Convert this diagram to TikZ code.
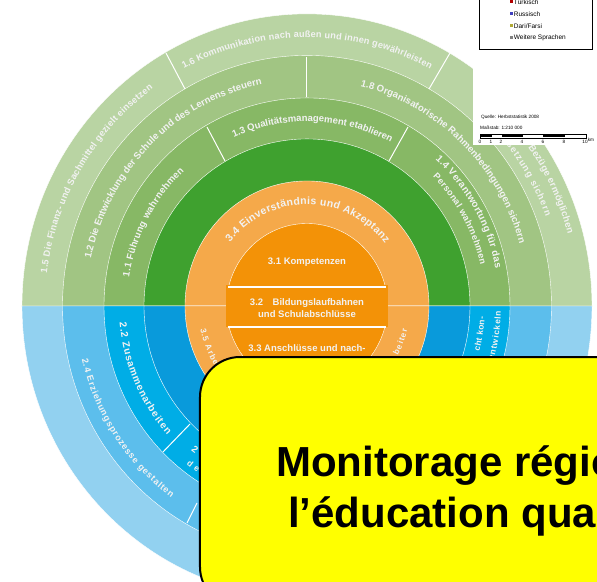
\documentclass[tikz,border=0pt]{standalone}
\usepackage{fontspec}
\setsansfont{Liberation Sans}
\usetikzlibrary{decorations.text,positioning}
\definecolor{greenA}{HTML}{B9D4A3}
\definecolor{greenB}{HTML}{A1C583}
\definecolor{greenC}{HTML}{87B865}
\definecolor{greenD}{HTML}{3FA12F}
\definecolor{blueA}{HTML}{92D1F0}
\definecolor{blueB}{HTML}{5CBEEC}
\definecolor{blueC}{HTML}{00ADE6}
\definecolor{blueD}{HTML}{099ADB}
\definecolor{orangeA}{HTML}{F5A94A}
\definecolor{orangeB}{HTML}{F39207}
\definecolor{boxyellow}{rgb}{1.0, 1.0, 0.0}
% radius, start angle, end angle, text
\newcommand{\ringlabel}[5][7.5]{%
  \path[decorate, decoration={text along path, text align=fit to path,
    text={|\sffamily\bfseries\fontsize{#1}{#1}\selectfont\color{white!95!black}|#5}}]
    ({#3:#2 and 1.025*#2}) arc[start angle=#3, end angle=#4, x radius=#2, y radius=1.025*#2];
}

\begin{document}
\begin{tikzpicture}[x=1pt, y=1pt]

\tikzset{
  ringline/.style={white, line width=1pt},
  centertext/.style={white!95!black, font={\sffamily\bfseries\fontsize{9.5}{12}\selectfont}, align=center},
  legendtext/.style={font={\sffamily\fontsize{6.5}{7}\selectfont}, anchor=west, inner sep=0pt},
  scaletext/.style={font={\sffamily\fontsize{4.7}{5}\selectfont}, inner sep=0pt},
  legendmark/.style={minimum size=3pt, inner sep=0pt},
  yellowbox/.style={draw=black, fill=boxyellow, line width=2pt, rounded corners=40pt},
  bigtext/.style={font={\sffamily\bfseries\fontsize{42}{50}\selectfont}, anchor=base west, inner sep=0pt},
}

  \useasboundingbox (-307,-275) rectangle (290,306);

  % upper half of the rings
  \foreach \r/\c in {285/greenA, 244.5/greenB, 203/greenC, 163/greenD, 122/orangeA, 80.5/orangeB}
    \filldraw[fill=\c, draw=white] (-\r,0) arc[start angle=180, end angle=0, x radius=\r, y radius=1.025*\r] -- cycle;

  % lower half of the rings
  \foreach \r/\c in {285/blueA, 244.5/blueB, 203/blueC, 163/blueD, 122/orangeA, 80.5/orangeB}
    \filldraw[fill=\c, draw=white] (-\r,0) arc[start angle=180, end angle=360, x radius=\r, y radius=1.025*\r] -- cycle;

  % dividers inside the rings
  \draw[ringline] (-141,253) -- (-122,217);
  \draw[ringline] (143,253) -- (122,217);
  \draw[ringline] (0,249) -- (0,209);
  \draw[ringline] (-100,179) -- (-82,145);
  \draw[ringline] (101,179) -- (82,145);
  \draw[ringline] (-117,-118) -- (-144,-146);
  \draw[ringline] (-110,-197) -- (-120,-217);

  % centre of the rings
  \fill[orangeB] (-81,-21) rectangle (81,21);
  \draw[ringline, line width=1.5pt] (-79,19) -- (79,19);
  \draw[ringline, line width=1.5pt] (-79,-21) -- (79,-21);

  \node[centertext] (kompetenzen) at (0,44) {3.1 Kompetenzen};
  \node[centertext] (laufbahnen) at (0,-2) {3.2\hspace{1em}Bildungslaufbahnen\\und Schulabschlüsse};
  \node[centertext] (anschluesse) at (0,-42) {3.3 Anschlüsse und nach-};

  % labels on the green rings
  \ringlabel[9.2]{262}{173}{126}{1.5 Die Finanz- und Sachmittel gezielt einsetzen}
  \ringlabel[9.2]{262}{118}{62}{1.6 Kommunikation nach außen und innen gewährleisten}
  \ringlabel[9.5]{270}{35}{15}{Bezüge ermöglichen}
  \ringlabel[9.2]{254}{42}{20}{Umsetzung sichern}
  \ringlabel[9.6]{221}{168}{102}{1.2 Die Entwicklung der Schule und des Lernens steuern}
  \ringlabel[9.6]{221}{76}{16}{1.8 Organisatorische Rahmenbedingungen sichern}
  \ringlabel[9.5]{180}{171}{133}{1.1 Führung wahrnehmen}
  \ringlabel[9.5]{180}{114}{63}{1.3 Qualitätsmanagement etablieren}
  \ringlabel[9.8]{192}{48}{11}{1.4 Verantwortung für das}
  \ringlabel[9]{178}{45}{13}{Personal wahrnehmen}

  % labels on the blue rings
  \ringlabel[10]{188}{185}{222}{2.2 Zusammenarbeiten}
  \ringlabel[9]{231}{193}{234}{2.4 Erziehungsprozesse gestalten}
  \node[rotate=-38, white!95!black, font={\sffamily\bfseries\fontsize{9.5}{9.5}\selectfont}] (zweidrei) at (-112,-144) {2};
  \ringlabel[8.5]{196}{232}{238}{der}
  \ringlabel[8.5]{178}{345.5}{356.5}{cht kon-}
  \ringlabel[8.5]{194}{344}{358.5}{entwickeln}

  % labels on the orange ring
  \ringlabel[10.5]{99}{141}{38}{3.4 Einverständnis und Akzeptanz}
  \ringlabel[8.2]{109}{192}{212}{3.5 Arbe}
  \ringlabel[8.2]{103}{332}{347}{beiter}

  % white panel with legend and scale
  \fill[white] (166,161) rectangle (290,306);
  \draw[line width=0.8pt] (172,306) -- (172,257) -- (285,257) -- (285,306);
  \node[legendmark, fill=red!70!black] (mark1) at (204,304) {};
  \node[legendtext, right=1pt of mark1] (tuerkisch) {Türkisch};
  \node[legendmark, fill=blue!50!gray] (mark2) at (204,292) {};
  \node[legendtext, right=1pt of mark2] (russisch) {Russisch};
  \node[legendmark, fill=olive!70] (mark3) at (204,280) {};
  \node[legendtext, right=1pt of mark3] (dari) {Dari/Farsi};
  \node[legendmark, fill=gray] (mark4) at (204,268) {};
  \node[legendtext, right=1pt of mark4] (weitere) {Weitere Sprachen};

  \node[scaletext, anchor=west] (quelle) at (174,189) {Quelle: Herbststatistik 2008};
  \node[scaletext, anchor=west] (massstab) at (173,178) {Maßstab: 1:210 000};
  \draw[line width=0.5pt] (173,168) rectangle (279,172);
  \foreach \a/\b in {173/185, 195/216, 236/258}
    \fill (\a,168.5) rectangle (\b,171);
  \foreach \x/\t in {173/0, 184/1, 194/2, 215/4, 236/6, 257/8, 278/10}
    \node[scaletext] at (\x,164.5) {\t};
  \node[scaletext] (km) at (284,166) {km};

  % yellow box on top
  \draw[yellowbox] (-107,-51) rectangle (340,-301);
  \node[bigtext] (line1) at (-31,-170) {Monitorage régio};
  \node[bigtext] (line2) at (-19,-221) {l’éducation qua};

\end{tikzpicture}
\end{document}
